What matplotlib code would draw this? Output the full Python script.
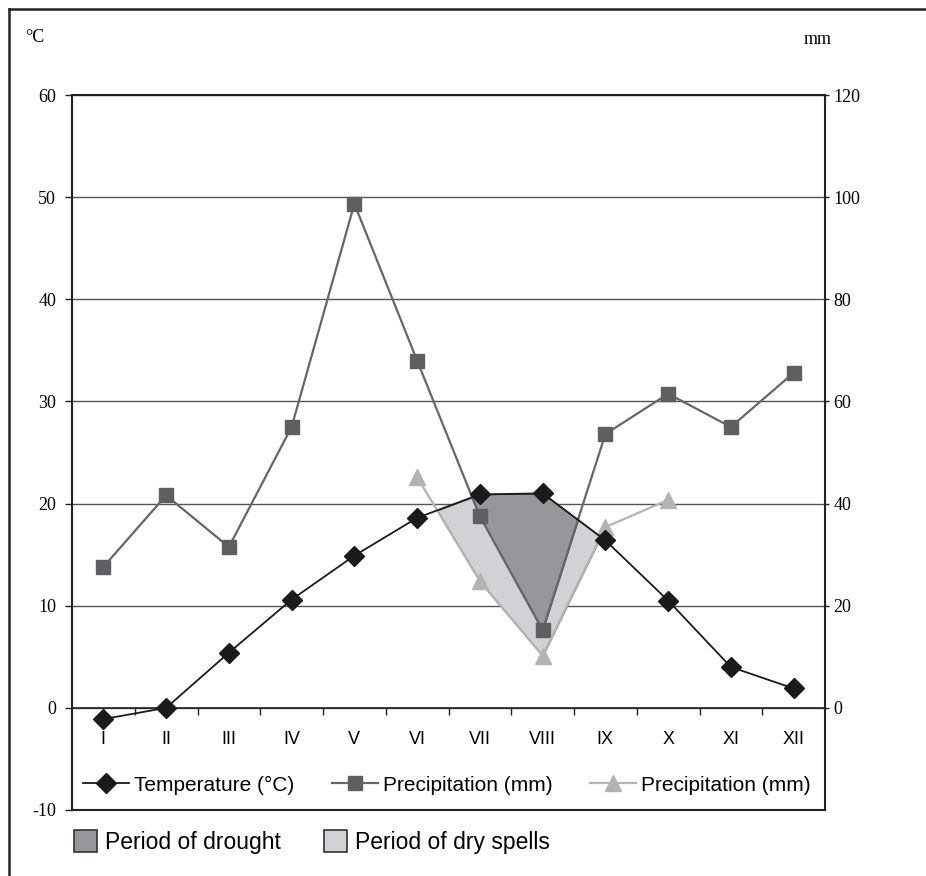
import numpy as np
import matplotlib
matplotlib.use("Agg")
import matplotlib.pyplot as plt
from matplotlib.lines import Line2D
from matplotlib.patches import Patch

plt.rcParams['font.family'] = ['Liberation Sans', 'DejaVu Sans']
plt.rcParams['axes.unicode_minus'] = False

# Climate diagram data
months = ['I', 'II', 'III', 'IV', 'V', 'VI', 'VII', 'VIII', 'IX', 'X', 'XI', 'XII']
temperature = [-1.1, 0.0, 5.4, 10.6, 14.9, 18.6, 20.9, 21.0, 16.4, 10.5, 4.0, 1.9]
precipitation = [27.6, 41.6, 31.5, 55.0, 98.7, 68.0, 37.5, 15.2, 53.6, 61.5, 55.0, 65.6]
precipitation_b = [np.nan, np.nan, np.nan, np.nan, np.nan, 45.2, 24.8, 10.2, 35.4, 40.7, np.nan, np.nan]

x = np.arange(len(months))
temp = np.array(temperature)
prec = np.array(precipitation)
prec_b = np.array(precipitation_b)
temp_mm = temp * 2  # 1 degC = 2 mm on this diagram

fig = plt.figure(figsize=(9.26, 8.76), dpi=100)
ax = fig.add_axes([72 / 926, 66 / 876, 753 / 926, 715 / 876])
ax2 = ax.twinx()

ax.set_xlim(-0.5, 11.5)
ax.set_ylim(-10, 60)
ax2.set_ylim(-20, 120)

# ax (temperature) drawn above ax2 (grid, fills, precipitation)
ax.set_zorder(3)
ax2.set_zorder(2)
ax.patch.set_visible(False)

ax2.set_axisbelow(True)
ax2.yaxis.grid(True, color='#555555', lw=1)

# shaded periods
ax2.fill_between(x, temp_mm, prec_b, where=prec_b < temp_mm, interpolate=True,
                 facecolor='#d0d2d5', edgecolor='#777777', lw=1, zorder=1)
ax2.fill_between(x, temp_mm, prec, where=prec < temp_mm, interpolate=True,
                 facecolor='#98969b', edgecolor='#333333', lw=0.8, zorder=1.2)

l2, = ax2.plot(x, prec, color='#66666a', lw=1.6, marker='s', ms=9.5,
               mfc='#5f5f63', mec='#5f5f63', label='Precipitation (mm)', zorder=3)
l3, = ax2.plot(x, prec_b, color='#b3b3b3', lw=1.6, marker='^', ms=12,
               mfc='#b3b3b3', mec='#b3b3b3', label='Precipitation (mm)', zorder=3)
l1, = ax.plot(x, temp, color='#1a1a1a', lw=1.3, marker='D', ms=10.5,
              mfc='#1a1a1a', mec='#1a1a1a', label='Temperature (°C)', zorder=4)

# axes styling
for s in ax.spines.values():
    s.set_color('#222222')
    s.set_linewidth(1.5)
for s in ax2.spines.values():
    s.set_visible(False)

ax.set_xticks([])
ax.set_yticks(range(-10, 61, 10))
ax.tick_params(axis='y', length=5, width=1, color='#222222', pad=6.5,
               labelsize=13, labelfontfamily='Liberation Serif')
ax2.set_yticks(range(0, 121, 20))
ax2.tick_params(axis='y', length=3, width=1, color='#222222', pad=3,
                labelsize=13, labelfontfamily='Liberation Serif')

# month axis along the 0 line
secax = ax.secondary_xaxis(10 / 70)
secax.set_xticks(np.arange(0.5, 11, 1), labels=[])
secax.set_xticks(x, labels=months, minor=True)
secax.tick_params(which='major', length=5, width=1, color='#222222', direction='out')
secax.tick_params(which='minor', length=0, pad=17, labelsize=13)
secax.spines['bottom'].set_color('#222222')
secax.spines['bottom'].set_linewidth(1.2)

ax.legend(handles=[l1, l2, l3], loc='center left', bbox_to_anchor=(11 / 753, 25 / 715),
          ncol=3, frameon=False, fontsize=15, handlelength=2.2, handletextpad=0.25,
          columnspacing=1.8, borderpad=0, borderaxespad=0)

fig.legend(handles=[Patch(facecolor='#98969b', edgecolor='#333333', lw=1.2, label='Period of drought'),
                    Patch(facecolor='#d0d2d5', edgecolor='#333333', lw=1.2, label='Period of dry spells')],
           loc='center left', bbox_to_anchor=(74 / 926, 1 - 842 / 876), ncol=2, frameon=False,
           fontsize=16.5, handlelength=1.0, handleheight=1.05, handletextpad=0.35,
           columnspacing=1.9, borderpad=0, borderaxespad=0)

fig.text(35 / 926, 1 - 37 / 876, '°C', ha='center', va='center', fontsize=13, family='Liberation Serif')
fig.text(818 / 926, 1 - 40 / 876, 'mm', ha='center', va='center', fontsize=13, family='Liberation Serif')

# outer frame (left and top edges)
fig.add_artist(Line2D([9 / 926, 9 / 926], [0, 1 - 9 / 876], color='#222222', lw=1.8))
fig.add_artist(Line2D([9 / 926, 1], [1 - 9 / 876, 1 - 9 / 876], color='#222222', lw=1.8))

fig.savefig('out.png', dpi=100)
